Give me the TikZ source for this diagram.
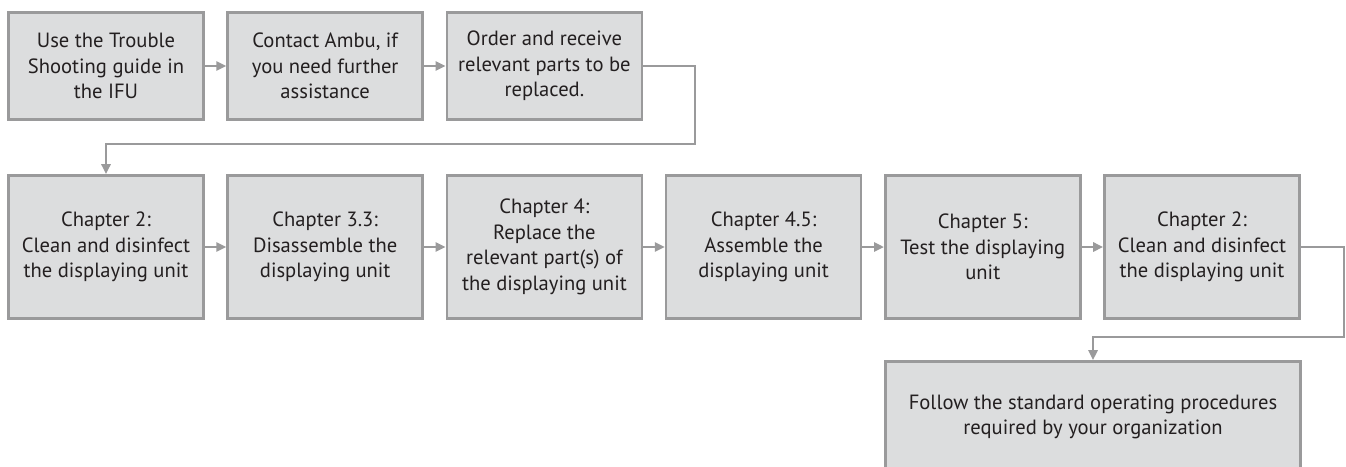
\documentclass[tikz,border=0pt]{standalone}
\usepackage{fontspec}
\setmainfont{PT Sans}
\usepackage{tikz}
\usepackage{xcolor}
\usetikzlibrary{arrows.meta}
\usetikzlibrary{positioning}

\definecolor{boxfill}{HTML}{DCDDDE}
\definecolor{boxline}{HTML}{9A9A9B}
\definecolor{txt}{HTML}{231F20}

\tikzset{
  stepbox/.style={draw=boxline, fill=boxfill, line width=2.6pt, text=txt,
    minimum width=195pt, align=center, inner sep=0pt,
    font=\fontsize{20.6}{25.5}\selectfont},
  toprow/.style={stepbox, minimum height=107pt},
  midrow/.style={stepbox, minimum height=143pt},
  flow/.style={draw=boxline, line width=2.6pt, ->}
}

\begin{document}
\begin{tikzpicture}[x=1pt, y=-1pt, >={Triangle[length=10pt,width=9pt]}]
\useasboundingbox (0,0) rectangle (1346,466);
%top row
\node[toprow] (t1) at (106,66) {Use the Trouble\\Shooting guide in\\the IFU};
\node[toprow] (t2) at (325.2,66) {Contact Ambu, if\\you need further\\assistance};
\node[toprow] (t3) at (544.4,66) {Order and receive\\relevant parts to be\\replaced.};

%chapters
\node[midrow] (c1) at (106,247) {Chapter 2:\\Clean and disinfect\\the displaying unit};
\node[midrow] (c2) at (325.2,247) {Chapter 3.3:\\Disassemble the\\displaying unit};
\node[midrow] (c3) at (544.4,247) {Chapter 4:\\Replace the\\relevant part(s) of\\the displaying unit};
\node[midrow] (c4) at (763.6,247) {Chapter 4.5:\\Assemble the\\displaying unit};
\node[midrow] (c5) at (982.8,247) {Chapter 5:\\Test the displaying\\unit};
\node[midrow] (c6) at (1202,247) {Chapter 2:\\Clean and disinfect\\the displaying unit};

%last step
\node[stepbox, minimum width=415pt, minimum height=111pt] (sop) at (1093,417)
  {Follow the standard operating procedures\\required by your organization};

\foreach \a/\b in {t1/t2,t2/t3,c1/c2,c2/c3,c3/c4,c4/c5,c5/c6} {
  \draw[flow] (\a) -- (\b);
}

\coordinate (r1) at (695,66);
\coordinate (r2) at (695,144);
\coordinate (r3) at (106,144);
\draw[flow] (t3.east) -- (r1) -- (r2) -- (r3) -- (c1.north);

\coordinate (s1) at (1344,247);
\coordinate (s2) at (1344,337);
\coordinate (s3) at (1093,337);
\draw[flow] (c6.east) -- (s1) -- (s2) -- (s3) -- (sop.north);
\end{tikzpicture}
\end{document}
